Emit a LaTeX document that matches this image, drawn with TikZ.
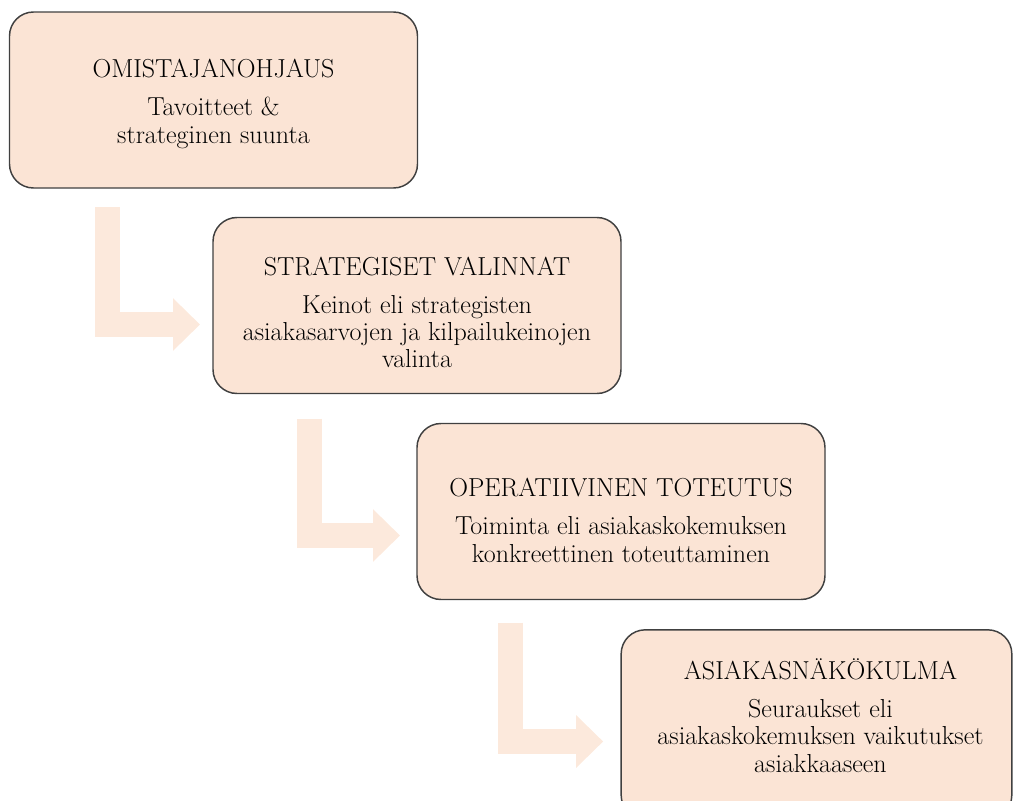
\documentclass[tikz,border=0pt]{standalone}
\usetikzlibrary{arrows.meta,calc}
\definecolor{boxfill}{HTML}{FBE4D5}
\definecolor{boxline}{HTML}{404040}
\definecolor{flowfill}{HTML}{FCE9DC}
\begin{document}
\begin{tikzpicture}[x=0.75pt,y=-0.75pt,
  stage/.style={draw=boxline, line width=1.1pt, fill=boxfill, rounded corners=18pt,
    minimum width=306pt, minimum height=132pt, inner sep=0pt, outer sep=0pt},
  stagetext/.style={align=center, font=\fontsize{19.5}{20.5}\selectfont, text=black},
  flow/.style={draw=flowfill, line width=18.75pt, line join=miter,
    -{Triangle[length=20.25pt,width=38.25pt]}}]
\useasboundingbox (0,0) rectangle (1014,800);
\clip (0,0) rectangle (1014,800);

% the four stages
\node[stage] (b1) at (213.5,100) {};
\node[stage] (b2) at (417,305.5) {};
\node[stage] (b3) at (621,511.5) {};
\node[stage, minimum width=293pt, minimum height=142pt] (b4) at (816.5,724.5) {};

% stage texts
\node[stagetext] (t1) at ($(b1.center)+(0,4)$)
  {OMISTAJANOHJAUS\\[8pt]Tavoitteet \&\\strateginen suunta};
\node[stagetext] (t2) at ($(b2.center)+(0,7)$)
  {STRATEGISET VALINNAT\\[8pt]Keinot eli strategisten\\asiakasarvojen ja kilpailukeinojen\\valinta};
\node[stagetext] (t3) at ($(b3.center)+(0,9)$)
  {OPERATIIVINEN TOTEUTUS\\[8pt]Toiminta eli asiakaskokemuksen\\konkreettinen toteuttaminen};
\node[stagetext] (t4) at ($(b4.center)+(4,-9)$)
  {ASIAKASNÄKÖKULMA\\[8pt]Seuraukset eli\\asiakaskokemuksen vaikutukset\\asiakkaaseen};

% bent flow arrows between stages
\draw[flow] ($(b1.south west)+(97.5,19)$) |- ($(b2.west)+(-13,19)$);
\draw[flow] ($(b2.south west)+(96.5,25)$) |- ($(b3.west)+(-17,24)$);
\draw[flow] ($(b3.south west)+(93.5,23)$) |- ($(b4.west)+(-18,17)$);
\end{tikzpicture}
\end{document}
